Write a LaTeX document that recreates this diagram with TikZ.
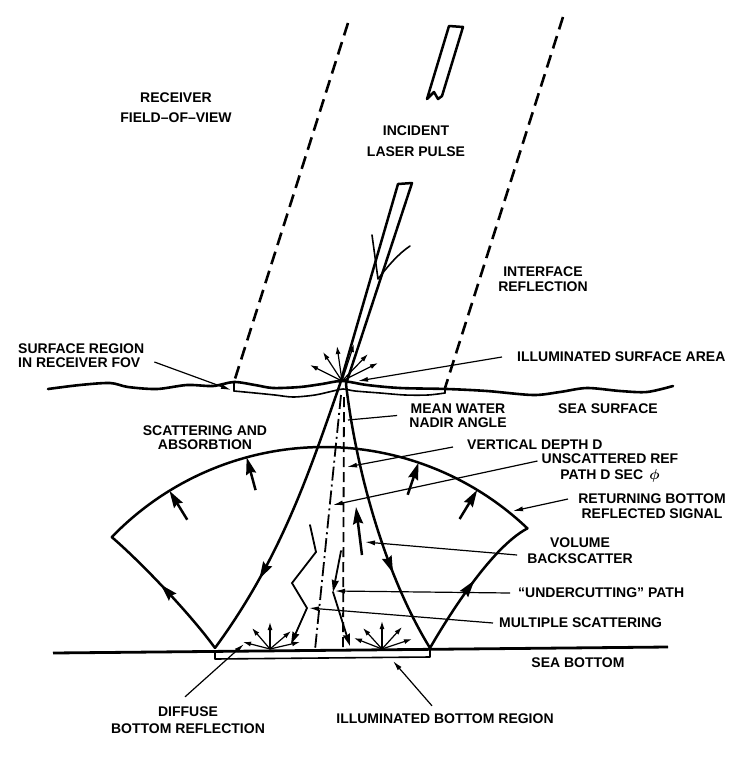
\documentclass[tikz,border=0pt]{standalone}
\usepackage{fontspec}
\setmainfont{Liberation Sans}
\usepackage{amsmath}
\usetikzlibrary{arrows.meta,decorations.markings}
\begin{document}
\begin{tikzpicture}[x=1pt,y=-1pt,
  lbl/.style={font=\fontsize{14}{14}\selectfont\bfseries,inner sep=0pt},
  thk/.style={line width=2.5pt,line cap=round,line join=round},
  thin/.style={line width=1.6pt,line cap=round,line join=round},
  fov/.style={line width=2.6pt,dash pattern=on 13pt off 7pt},
  ldr/.style={line width=1.2pt,-{Latex[length=10pt,width=5pt]}},
  ldrplain/.style={line width=1.2pt},
  smallarr/.style={line width=1.2pt,-{Latex[length=8pt,width=5pt]}},
  medarr/.style={line width=1.8pt,line cap=round,-{Stealth[length=12pt,width=7pt,inset=1pt]}},
  bigarr/.style={line width=2.5pt,-{Stealth[length=17pt,width=10pt,inset=2pt]}},
  midarrow/.style={postaction={decorate},decoration={markings,mark=at position #1 with {\arrow{Stealth[length=17pt,width=10pt,inset=2pt]}}}},
  vdash/.style={line width=1.8pt,dash pattern=on 10pt off 5pt},
  vdashdot/.style={line width=1.8pt,dash pattern=on 14pt off 4pt on 2pt off 4pt},
]
\useasboundingbox (0,0) rectangle (743,763);

% ---------- coordinates ----------
\coordinate (fovLt) at (348,23);  \coordinate (fovLb) at (234,382);
\coordinate (fovRt) at (563,17);  \coordinate (fovRb) at (445,388);
\coordinate (o) at (342,381);
\coordinate (sl) at (340,384);    \coordinate (sr) at (346,384);
\coordinate (bl) at (215,648);    \coordinate (br) at (430,648);
\coordinate (fl) at (111.8,537.1); \coordinate (fr) at (527.4,528.4);

% ---------- receiver field of view ----------
\draw[fov] (fovLt) -- (fovLb);
\draw[fov] (fovRt) -- (fovRb);

% ---------- sea surface ----------
\draw[line width=2.6pt,line cap=round] plot[smooth,tension=0.5] coordinates {(48,389) (80,385) (110,383) (128,387) (157,389) (187,385) (213,386) (234,382) (255,385) (273,388) (300,387) (322,384) (342,381) (367,385) (400,388) (447,389) (487,391) (533,395) (560,392) (587,388) (620,391) (647,392) (673,386)};
% surface region in receiver FOV
\draw[thin] (fovLb) -- (234,391);
\draw[thin] (fovRb) -- (445,393);
\draw[thin] plot[smooth,tension=0.5] coordinates {(234,391) (255,393) (275,395) (293,397) (315,395) (333,391) (343,389) (355,391) (380,393) (405,395) (428,395) (445,393)};

% ---------- incident laser pulse ----------
\draw[thk] (427,99) -- (449,26) -- (463,27) -- (442,96) -- (438,99) -- (434,92) -- cycle;
\draw[thk] (sl) -- (398,184) -- (412,183) -- (sr);
\draw[thin] (372,235) -- (378,279) .. controls (388,266) and (398,254) .. (410,246);

% interface reflection arrows
\foreach \t in {(310,365),(323,352),(337,346),(354,344),(368,354),(378,363)}
  \draw[smallarr] (o) -- \t;

% ---------- refracted cone and returning signal ----------
\draw[thk,midarrow=0.72] (sl) .. controls (309,473) and (281,558) .. (bl);
\draw[thk,midarrow=0.70] (sr) .. controls (356,470) and (385,575) .. (br);
\draw[thk,midarrow=0.55] (bl) .. controls (192,616) and (142,563) .. (fl);
\draw[thk,midarrow=0.52] (br) .. controls (445,622) and (490,548) .. (fr);
\draw[thk] plot[domain=224:313.6,samples=90] ({324+295*cos(\x)},{742+295*sin(\x)});
\foreach \a in {238.4,254.8,288.7,301.3}
  \draw[bigarr] ({324+261*cos(\a)},{742+261*sin(\a)}) -- ({324+295*cos(\a)},{742+295*sin(\a)});

% vertical depth (dashed) and unscattered path (dash-dot)
\draw[vdash] (344,397) -- (343,650);
\draw[vdashdot] (341,395) -- (315,650);

% volume backscatter
\draw[bigarr] (362,555) -- (356,507);

% undercutting path
\draw[medarr] (341,551) -- (333,592);
\draw[medarr] (333,592) -- (350,646);

% multiple scattering
\draw[medarr] (310,525) -- (316,552) -- (292,583) -- (307,608) -- (291,644);

% ---------- sea bottom ----------
\draw[line width=2.8pt] (53,653) -- (668,647);
\draw[thin] (215,651) -- (215,659) -- (430,657) -- (430,649);
\foreach \t in {(243,642),(252,628),(270,622),(291,631),(300,642)}
  \draw[smallarr] (270,649) -- \t;
\foreach \t in {(354,638),(363,628),(382,621),(402,627),(412,639)}
  \draw[smallarr] (382,649) -- \t;

% ---------- labels ----------
\node[lbl,align=center] (lRec) at (176,108) {RECEIVER\\[6pt]FIELD–OF–VIEW};
\node[lbl,align=center] (lInc) at (416,141.5) {INCIDENT\\[7pt]LASER PULSE};
\node[lbl,align=center] (lIntf) at (543,279.5) {INTERFACE\\[1pt]REFLECTION};
\node[lbl,align=left,anchor=west] (lSR) at (18,356) {SURFACE REGION\\IN RECEIVER FOV};
\node[lbl,anchor=west] (lISA) at (517,357) {ILLUMINATED SURFACE AREA};
\node[lbl] (lSeaS) at (608,409) {SEA SURFACE};
\node[lbl,align=center] (lMW) at (458,415.5) {MEAN WATER\\[0.5pt]NADIR ANGLE};
\node[lbl,align=center] (lSA) at (205,437.5) {SCATTERING AND\\[-0.5pt]ABSORBTION};
\node[lbl,anchor=west] (lVD) at (467,445) {VERTICAL DEPTH D};
\node[lbl,align=center] (lUR) at (610,468) {UNSCATTERED REF\\[2pt]PATH D SEC \,$\boldsymbol{\phi}$};
\node[lbl,align=center] (lRB) at (652,506.5) {RETURNING BOTTOM\\[1pt]REFLECTED SIGNAL};
\node[lbl,align=center] (lVB) at (580,551) {VOLUME\\[2pt]BACKSCATTER};
\node[lbl,anchor=west] (lUC) at (518,593) {“UNDERCUTTING” PATH};
\node[lbl,anchor=west] (lMS) at (499,623) {MULTIPLE SCATTERING};
\node[lbl] (lSB) at (578,663) {SEA BOTTOM};
\node[lbl,align=center] (lDB) at (188,720.5) {DIFFUSE\\[3pt]BOTTOM REFLECTION};
\node[lbl] (lIBR) at (445,719) {ILLUMINATED BOTTOM REGION};

% ---------- leaders ----------
\coordinate (tSR) at (231,390);
\coordinate (tISA) at (358,381);
\coordinate (tMW) at (348,420);
\coordinate (tVD) at (347,467);
\coordinate (tUR) at (333,505);
\coordinate (tRB) at (513,511);
\coordinate (tVB) at (365,542);
\coordinate (tUC) at (335,591);
\coordinate (tMS) at (309,608);
\coordinate (tDB) at (244,644);
\coordinate (tIBR) at (393,661);
\draw[ldr] ([xshift=10pt,yshift=-6pt]lSR.east) -- (tSR);
\draw[ldr] ([xshift=-15pt]lISA.west) -- (tISA);
\draw[ldrplain] ([xshift=-12pt]lMW.west) -- (tMW);
\draw[ldr] ([xshift=-14pt,yshift=-2pt]lVD.west) -- (tVD);
\draw[ldr] ([xshift=-4pt,yshift=7pt]lUR.west) -- (tUR);
\draw[ldr] ([xshift=-10pt,yshift=7.5pt]lRB.west) -- (tRB);
\draw[ldr] ([xshift=-10pt,yshift=-4pt]lVB.west) -- (tVB);
\draw[ldr] ([xshift=-8pt]lUC.west) -- (tUC);
\draw[ldr] ([xshift=-6pt]lMS.west) -- (tMS);
\draw[ldr] ([xshift=-3pt,yshift=10pt]lDB.north) -- (tDB);
\draw[ldr] ([xshift=-13pt,yshift=8pt]lIBR.north) -- (tIBR);
\end{tikzpicture}
\end{document}
